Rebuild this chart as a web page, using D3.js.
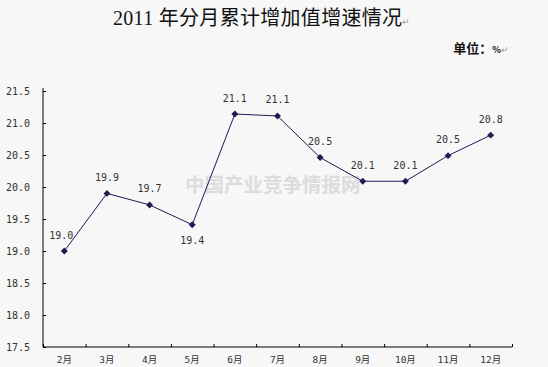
<html>
<head>
<meta charset="utf-8">
<script src="https://d3js.org/d3.v7.min.js"></script>
<style>
body { margin: 0; background: #f7f7f7; }
svg { display: block; background: #f7f7f7; }
.axis path, .axis line { stroke: #000; }
.axis text { font-family: "DejaVu Sans Mono", monospace; font-size: 10px; fill: #333; }
.lbl { font-family: "DejaVu Sans Mono", monospace; font-size: 10px; fill: #333; }
</style>
</head>
<body>
<svg width="548" height="367"></svg>
<script>
// 2011 monthly cumulative value-added growth rate, %
var months = ["2月", "3月", "4月", "5月", "6月", "7月", "8月", "9月", "10月", "11月", "12月"];
var values = [19.0, 19.9, 19.72, 19.41, 21.14, 21.11, 20.46, 20.09, 20.09, 20.49, 20.81];
var yTicks = [17.5, 18.0, 18.5, 19.0, 19.5, 20.0, 20.5, 21.0, 21.5];
var labelsBelow = ["5月"];

var svg = d3.select("svg");
var fmt = d3.format(".1f");

var xb = d3.scaleLinear().domain([0, months.length]).range([43, 512]);
var y = d3.scaleLinear().domain([17.5, 21.5]).range([347, 91]);
var xc = function (i) { return xb(i + 0.5); };

// title
svg.append("text")
  .attr("x", 113).attr("y", 25)
  .style("font-family", "'Liberation Serif', 'Noto Sans CJK SC', serif")
  .style("font-size", "20px")
  .style("letter-spacing", "0.3px")
  .style("fill", "#111")
  .text("2011 年分月累计增加值增速情况")
  .append("tspan").style("font-size", "9px").style("fill", "#999").style("letter-spacing", "0").text("↵");

svg.append("text")
  .attr("x", 509).attr("y", 53)
  .attr("text-anchor", "end")
  .style("font-family", "'Noto Sans CJK SC', sans-serif")
  .style("font-size", "13px")
  .style("font-weight", "bold")
  .style("fill", "#111")
  .text("单位：")
  .append("tspan").style("font-size", "9px").text("%")
  .append("tspan").style("font-weight", "normal").style("fill", "#999").text("↵");

// watermark
svg.append("text")
  .attr("x", 185).attr("y", 192)
  .style("font-family", "'Noto Sans CJK SC', sans-serif")
  .style("font-size", "19.5px")
  .style("font-weight", "bold")
  .style("fill", "#dcdcdc")
  .text("中国产业竞争情报网");

// y axis
svg.append("g").attr("class", "axis")
  .attr("transform", "translate(43,0)")
  .call(d3.axisLeft(y).tickValues(yTicks).tickSize(-3).tickPadding(13).tickFormat(fmt))
  .call(function (g) { g.select(".domain").attr("d", "M0," + y(17.5) + "V" + (y(21.5) - 3)); });

// x axis
var xg = svg.append("g").attr("class", "axis")
  .attr("transform", "translate(0," + y(17.5) + ")")
  .call(d3.axisBottom(xb).tickValues(d3.range(months.length + 1)).tickSize(-3).tickFormat(""));
xg.select(".domain").attr("d", "M43,0H512");

svg.append("g").selectAll("text")
  .data(months).enter().append("text")
  .attr("class", "lbl")
  .attr("x", function (d, i) { return xc(i); })
  .attr("y", 363)
  .attr("text-anchor", "middle")
  .style("font-family", "'DejaVu Sans Mono', 'Noto Sans CJK SC', monospace")
  .style("font-size", "9.5px")
  .text(function (d) { return d; });

// line
var line = d3.line()
  .x(function (d, i) { return xc(i); })
  .y(function (d) { return y(d); });

svg.append("path")
  .datum(values)
  .attr("d", line)
  .attr("fill", "none")
  .attr("stroke", "#1c1c52")
  .attr("stroke-width", 1);

svg.append("g").selectAll("path")
  .data(values).enter().append("path")
  .attr("d", d3.symbol().type(d3.symbolSquare).size(24))
  .attr("transform", function (d, i) { return "translate(" + xc(i) + "," + y(d) + ") rotate(45)"; })
  .attr("fill", "#1c1c52");

svg.append("g").selectAll("text")
  .data(values).enter().append("text")
  .attr("class", "lbl")
  .attr("x", function (d, i) { return xc(i) - (i === 0 ? 3 : 0); })
  .attr("y", function (d, i) { return y(d) + (labelsBelow.indexOf(months[i]) >= 0 ? 16 : -16); })
  .attr("dy", "0.35em")
  .attr("text-anchor", "middle")
  .text(function (d) { return fmt(d); });
</script>
</body>
</html>
